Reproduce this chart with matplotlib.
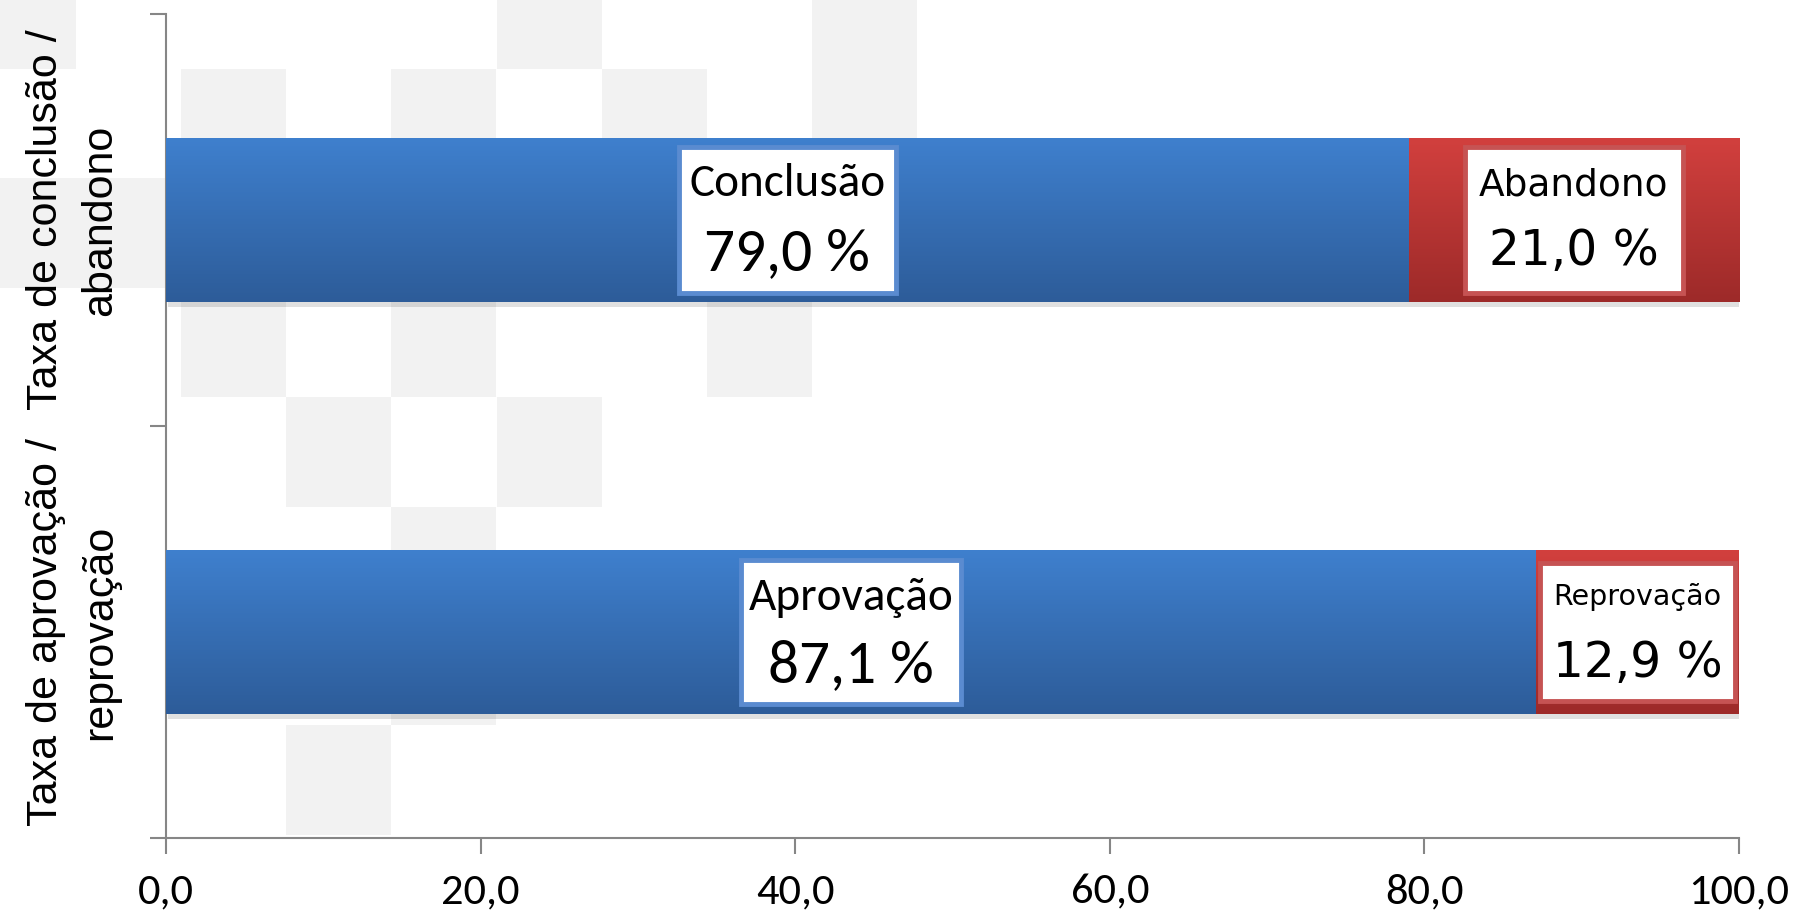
import matplotlib
matplotlib.use('Agg')
import matplotlib.pyplot as plt
import matplotlib.patheffects as pe
import matplotlib.transforms as mtransforms
import numpy as np
from matplotlib.colors import LinearSegmentedColormap
from matplotlib.patches import Rectangle

categories = ['Taxa de aprovação /\nreprovação', 'Taxa de conclusão /\nabandono']
first_names = ['Aprovação', 'Conclusão']
first_values = [87.1, 79.0]
second_names = ['Reprovação', 'Abandono']
second_values = [12.9, 21.0]
xticks = [0, 20, 40, 60, 80, 100]

W, H = 1797, 924
NARROW = ['Carlito', 'DejaVu Sans']
WIDE = ['DejaVu Sans']
ARIAL = ['Liberation Sans', 'DejaVu Sans']

fig = plt.figure(figsize=(W / 100, H / 100), dpi=100)
ax = fig.add_axes([166 / W, 1 - 838 / H, (1739 - 166) / W, (838 - 14) / H])
ax.set_facecolor('none')

# decorative grey squares behind the chart (pixel grid)
col_w, row_h = 105.1, 109.4
gx0, gy0 = -29, -40.5
cells = [(0, 0), (5, 0), (8, 0), (2, 1), (4, 1), (6, 1), (8, 1),
         (2, 3), (4, 3), (7, 3), (3, 4), (5, 4), (4, 5), (4, 6), (3, 7)]
for c, r in cells:
    px = gx0 + c * col_w
    py = gy0 + r * row_h
    fig.add_artist(Rectangle((px / W, 1 - (py + row_h) / H), col_w / W, row_h / H,
                             transform=fig.transFigure, color='#f2f2f2', lw=0, zorder=-5))
py = gy0 + 2 * row_h
fig.add_artist(Rectangle((0, 1 - (py + row_h) / H), 166 / W, row_h / H,
                         transform=fig.transFigure, color='#f2f2f2', lw=0, zorder=-5))

ypos = np.arange(len(categories))
bar_h = 0.40
blue = ('#3f80ce', '#2d5c99')
red = ('#d2403e', '#9d2a29')
grad = np.linspace(0, 1, 256).reshape(-1, 1)


def grad_bar(y, left, width, cols):
    b = ax.barh(y, width, left=left, height=bar_h, color=cols[1], lw=0, zorder=2)[0]
    b.set_path_effects([pe.SimplePatchShadow(offset=(1.5, -3), shadow_rgbFace='k', alpha=0.12),
                        pe.Normal()])
    cmap = LinearSegmentedColormap.from_list('g', [cols[0], cols[1]])
    im = ax.imshow(grad, cmap=cmap, aspect='auto', zorder=3,
                   extent=(left, left + width, y - bar_h / 2, y + bar_h / 2))
    im.set_clip_path(b)


def seg_label(xc, y, name, value, bw, bh, edge, fam, fs1, fs2, dy1=25, dy2=-22):
    ax.add_patch(Rectangle((xc - bw / 2, y - bh / 2), bw, bh, facecolor='white',
                           edgecolor=edge, lw=3.5, zorder=4))
    ax.annotate(name, (xc, y), xytext=(0, dy1), textcoords='offset points',
                ha='center', va='center', fontsize=fs1, family=fam, zorder=5)
    ax.annotate(f'{value:.1f} %'.replace('.', ','), (xc, y), xytext=(0, dy2),
                textcoords='offset points', ha='center', va='center',
                fontsize=fs2, family=fam, zorder=5)


for i in range(len(categories)):
    grad_bar(ypos[i], 0, first_values[i], blue)
    grad_bar(ypos[i], first_values[i], second_values[i], red)

# label boxes
seg_label(first_values[0] / 2, ypos[0], first_names[0], first_values[0], 14.0, 0.35, '#5a8bd0', NARROW, 34, 44, 25, -24)
seg_label(first_values[1] / 2, ypos[1], first_names[1], first_values[1], 13.8, 0.355, '#5a8bd0', NARROW, 34, 44, 26, -24)
seg_label(first_values[0] + second_values[0] / 2, ypos[0], second_names[0], second_values[0],
          12.4, 0.333, '#c65353', WIDE, 20.5, 35)
seg_label(first_values[1] + second_values[1] / 2, ypos[1], second_names[1], second_values[1],
          13.9, 0.352, '#c65353', WIDE, 27, 35)

ax.set_xlim(0, 100)
ax.set_ylim(-0.5, 1.5)

trans = mtransforms.blended_transform_factory(ax.transAxes, ax.transData)
for i, cat in enumerate(categories):
    ax.text(-0.059, ypos[i], cat, transform=trans, rotation=90, ha='center', va='center',
            multialignment='center', fontsize=31, family=ARIAL, linespacing=1.45)

ax.set_xticks(xticks)
ax.set_xticklabels([f'{v:.1f}'.replace('.', ',') for v in xticks], fontsize=32, family=NARROW)
ax.set_yticks([-0.5, 0.5, 1.5])
ax.set_yticklabels([])
for s in ['top', 'right']:
    ax.spines[s].set_visible(False)
for s in ['left', 'bottom']:
    ax.spines[s].set_color('#868686')
    ax.spines[s].set_linewidth(1.5)
ax.tick_params(axis='both', length=11.5, width=1.5, color='#868686')
ax.tick_params(axis='x', pad=14)

fig.savefig('out.png', dpi=100)
